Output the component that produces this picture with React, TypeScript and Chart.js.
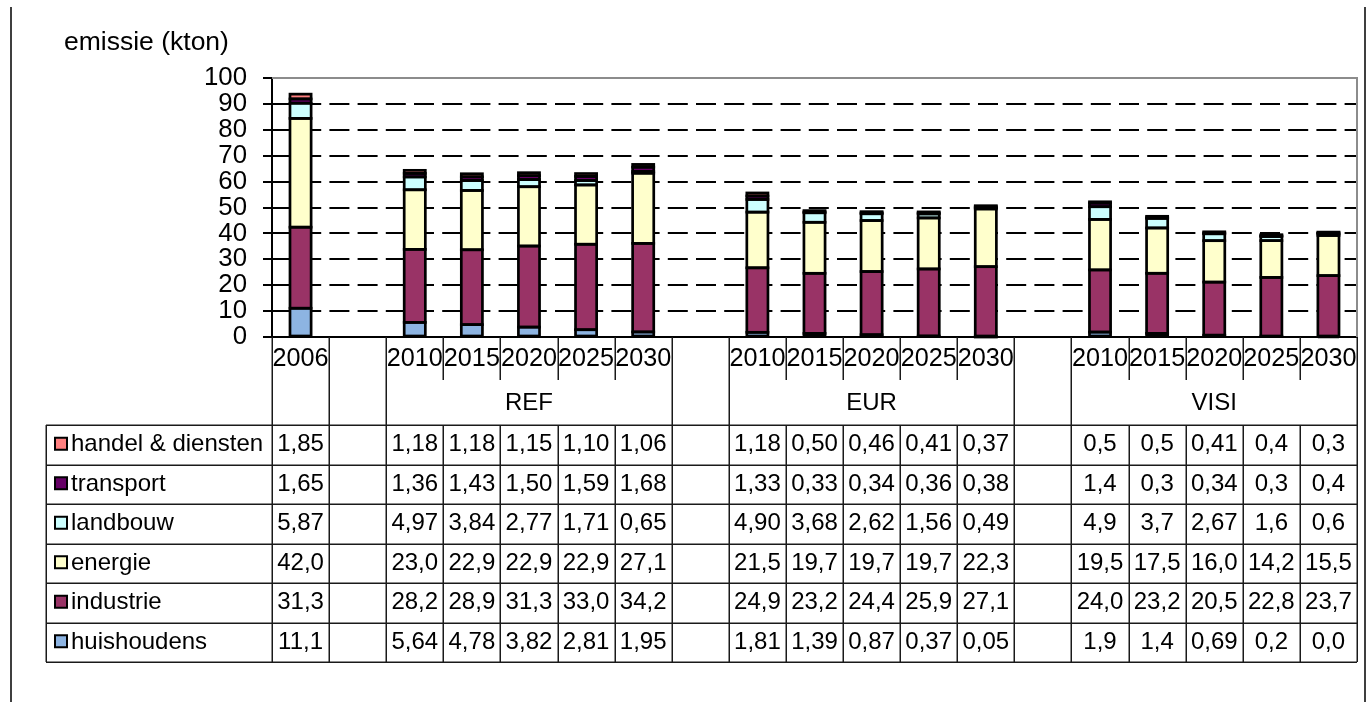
import React, { useEffect, useRef } from "react";
import { Chart, registerables } from "chart.js";

Chart.register(...registerables);

const FONT = "'Liberation Sans', Arial, sans-serif";

// Category axis: one year per column, empty columns separate the scenarios
const years = [
  "2006", "",
  "2010", "2015", "2020", "2025", "2030", "",
  "2010", "2015", "2020", "2025", "2030", "",
  "2010", "2015", "2020", "2025", "2030",
];

// Second axis level: scenario label and how many columns it spans
const scenarioLabels = ["", "", "REF", "", "EUR", "", "VISI"];
const scenarioSpans = [1, 1, 5, 1, 5, 1, 5];

// Emissions per sector (kton), as printed in the data table
const huishoudens = ["11,1", "", "5,64", "4,78", "3,82", "2,81", "1,95", "", "1,81", "1,39", "0,87", "0,37", "0,05", "", "1,9", "1,4", "0,69", "0,2", "0,0"];
const industrie = ["31,3", "", "28,2", "28,9", "31,3", "33,0", "34,2", "", "24,9", "23,2", "24,4", "25,9", "27,1", "", "24,0", "23,2", "20,5", "22,8", "23,7"];
const energie = ["42,0", "", "23,0", "22,9", "22,9", "22,9", "27,1", "", "21,5", "19,7", "19,7", "19,7", "22,3", "", "19,5", "17,5", "16,0", "14,2", "15,5"];
const landbouw = ["5,87", "", "4,97", "3,84", "2,77", "1,71", "0,65", "", "4,90", "3,68", "2,62", "1,56", "0,49", "", "4,9", "3,7", "2,67", "1,6", "0,6"];
const transport = ["1,65", "", "1,36", "1,43", "1,50", "1,59", "1,68", "", "1,33", "0,33", "0,34", "0,36", "0,38", "", "1,4", "0,3", "0,34", "0,3", "0,4"];
const handelDiensten = ["1,85", "", "1,18", "1,18", "1,15", "1,10", "1,06", "", "1,18", "0,50", "0,46", "0,41", "0,37", "", "0,5", "0,5", "0,41", "0,4", "0,3"];

// Stack order, bottom to top
const seriesNames = ["huishoudens", "industrie", "energie", "landbouw", "transport", "handel & diensten"];
const seriesValues = [huishoudens, industrie, energie, landbouw, transport, handelDiensten];
const seriesColors = ["#8DB4E2", "#993366", "#FFFFCC", "#CCFFFF", "#660066", "#FF8080"];

const yTicksMax = 100;
const yTickStep = 10;
const yTitle = "emissie (kton)";

const toNumber = (s: string): number | null => (s === "" ? null : parseFloat(s.replace(",", ".")));

// Outlines every stacked segment with a stroke centred on its edges
const segmentOutlinePlugin = {
  id: "segmentOutline",
  afterDatasetsDraw(chart: any) {
    const { ctx } = chart;
    ctx.save();
    ctx.strokeStyle = "#000";
    ctx.lineWidth = 2.7;
    chart.data.datasets.forEach((_: any, di: number) => {
      const meta = chart.getDatasetMeta(di);
      meta.data.forEach((el: any, i: number) => {
        const v = chart.data.datasets[di].data[i];
        if (v === null || v === undefined) return;
        const { x, y, base, width } = el.getProps(["x", "y", "base", "width"], true);
        ctx.strokeRect(x - width / 2, Math.min(y, base), width, Math.abs(base - y));
      });
    });
    ctx.restore();
  },
};

// Draws the plot frame, the two-level category axis and the data table below the bars
const dataTablePlugin = {
  id: "dataTable",
  afterDraw(chart: any) {
    const { ctx, chartArea } = chart;
    const xScale = chart.scales.x;
    const n = years.length;
    const left = chartArea.left;
    const right = chartArea.right;
    const colW = (right - left) / n;
    const edge = (i: number) => left + i * colW;

    const axisY = chartArea.bottom;
    const yearRowBottom = axisY + 43;
    const tableTop = axisY + 88;
    const rowH = 39.5;
    const rows = seriesNames.length;
    const tableBottom = tableTop + rowH * rows;
    const tableLeft = 46;

    ctx.save();

    // page side rules
    ctx.strokeStyle = "#000";
    ctx.lineWidth = 1.5;
    ctx.beginPath();
    ctx.moveTo(11, 7);
    ctx.lineTo(11, 702);
    ctx.moveTo(1365, 7);
    ctx.lineTo(1365, 702);
    ctx.stroke();

    // plot frame (top and right)
    ctx.strokeStyle = "#8c8c8c";
    ctx.lineWidth = 2;
    ctx.beginPath();
    ctx.moveTo(left, chartArea.top);
    ctx.lineTo(right, chartArea.top);
    ctx.lineTo(right, axisY);
    ctx.stroke();

    // axis title
    ctx.fillStyle = "#000";
    ctx.font = `26.5px ${FONT}`;
    ctx.textAlign = "left";
    ctx.textBaseline = "middle";
    ctx.fillText(yTitle, 64, 43);

    // column boundaries
    const groupEdges = new Set<number>([0]);
    let acc = 0;
    scenarioSpans.forEach((s) => {
      acc += s;
      groupEdges.add(acc);
    });

    ctx.strokeStyle = "#1a1a1a";
    ctx.lineWidth = 1.5;
    ctx.beginPath();
    for (let i = 0; i <= n; i++) {
      const x = Math.round(edge(i)) + 0.25;
      if (groupEdges.has(i)) {
        ctx.moveTo(x, axisY);
        ctx.lineTo(x, tableBottom);
      } else {
        ctx.moveTo(x, axisY);
        ctx.lineTo(x, yearRowBottom);
        ctx.moveTo(x, tableTop);
        ctx.lineTo(x, tableBottom);
      }
    }
    // table horizontal rules
    for (let r = 0; r <= rows; r++) {
      const y = Math.round(tableTop + r * rowH) + 0.25;
      ctx.moveTo(tableLeft, y);
      ctx.lineTo(right, y);
    }
    ctx.moveTo(tableLeft + 0.25, tableTop);
    ctx.lineTo(tableLeft + 0.25, tableBottom);
    ctx.stroke();

    // year labels
    ctx.fillStyle = "#000";
    ctx.font = `25.2px ${FONT}`;
    ctx.textAlign = "center";
    ctx.textBaseline = "middle";
    years.forEach((yr, i) => {
      if (yr) ctx.fillText(yr, xScale.getPixelForValue(i), axisY + 22);
    });

    // scenario labels
    ctx.font = `24px ${FONT}`;
    let start = 0;
    scenarioLabels.forEach((lab, g) => {
      const span = scenarioSpans[g];
      if (lab) ctx.fillText(lab, (edge(start) + edge(start + span)) / 2, axisY + 66);
      start += span;
    });

    // table rows, top row is the top of the stack
    for (let r = 0; r < rows; r++) {
      const si = rows - 1 - r;
      const cy = tableTop + r * rowH + rowH / 2;

      // legend key
      ctx.fillStyle = seriesColors[si];
      ctx.fillRect(55, cy - 7, 12, 12);
      ctx.strokeStyle = "#000";
      ctx.lineWidth = 2;
      ctx.strokeRect(55, cy - 7, 12, 12);

      ctx.fillStyle = "#000";
      ctx.textAlign = "left";
      ctx.fillText(seriesNames[si], 71, cy);

      ctx.textAlign = "center";
      seriesValues[si].forEach((v, i) => {
        if (v) ctx.fillText(v, xScale.getPixelForValue(i), cy);
      });
    }

    ctx.restore();
  },
};

export default function App() {
  const canvasRef = useRef<HTMLCanvasElement | null>(null);

  useEffect(() => {
    if (!canvasRef.current) return;
    Chart.defaults.font.family = FONT;
    Chart.defaults.font.size = 24;
    Chart.defaults.color = "#000";

    const chart = new Chart(canvasRef.current, {
      type: "bar",
      data: {
        labels: years,
        datasets: seriesNames.map((name, i) => ({
          label: name,
          data: seriesValues[i].map(toNumber),
          backgroundColor: seriesColors[i],
          borderWidth: 0,
          categoryPercentage: 1,
          barPercentage: 0.37,
        })),
      },
      options: {
        animation: false,
        responsive: false,
        maintainAspectRatio: false,
        events: [],
        layout: { padding: { top: 78, right: 15, left: 0, bottom: 0 } },
        plugins: {
          legend: { display: false },
          tooltip: { enabled: false },
          title: { display: false },
        },
        scales: {
          x: {
            stacked: true,
            ticks: { display: false },
            grid: { display: false },
            border: { display: true, color: "#000", width: 2 },
            afterFit: (s: any) => {
              s.height = 365;
            },
          },
          y: {
            stacked: true,
            min: 0,
            max: yTicksMax,
            ticks: {
              stepSize: yTickStep,
              autoSkip: false,
              color: "#000",
              font: { size: 25.8, family: FONT },
              padding: 16,
            },
            grid: {
              color: (c: any) =>
                c.tick && (c.tick.value === 0 || c.tick.value === yTicksMax) ? "rgba(0,0,0,0)" : "#000",
              lineWidth: 2,
              tickColor: "#000",
              tickLength: 9,
              tickWidth: 2,
            },
            border: { display: true, color: "#000", width: 2, dash: [20, 8.2], dashOffset: 0 },
            afterFit: (s: any) => {
              s.width = 272;
            },
          },
        },
      },
      plugins: [segmentOutlinePlugin, dataTablePlugin],
    });

    return () => chart.destroy();
  }, []);

  return (
    <div style={{ position: "fixed", left: 0, top: 0, width: 1372, height: 702, background: "#fff" }}>
      <canvas ref={canvasRef} width={1372} height={702} style={{ display: "block" }} />
    </div>
  );
}
